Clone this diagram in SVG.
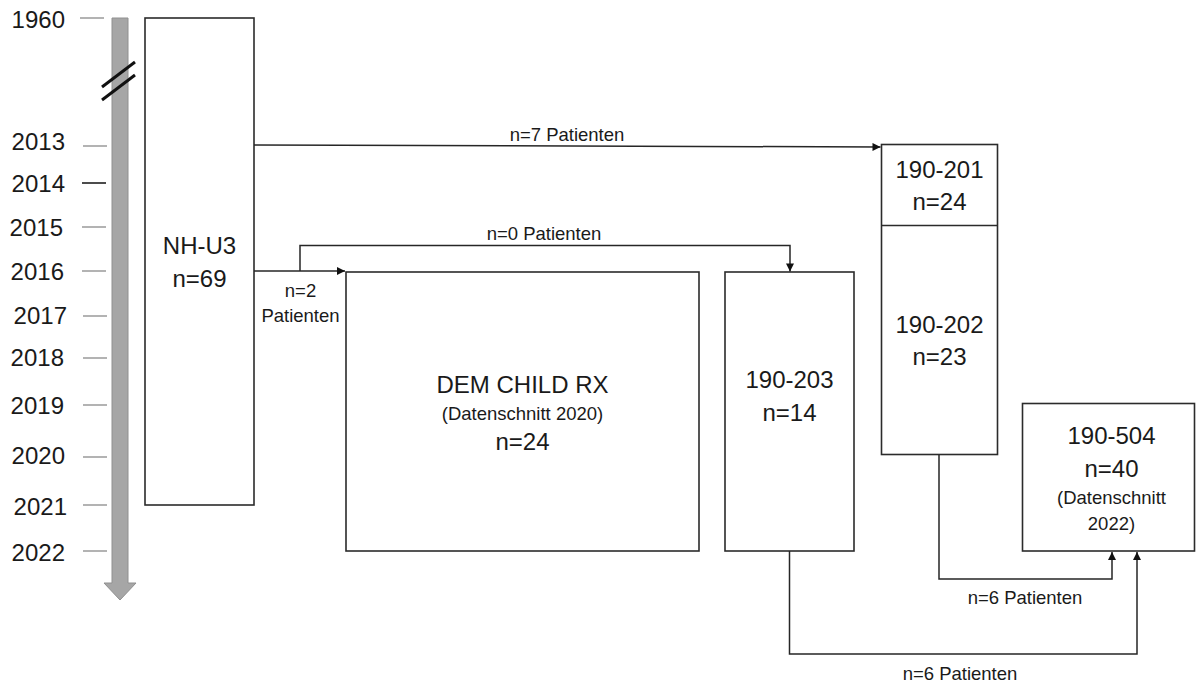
<svg xmlns="http://www.w3.org/2000/svg" width="1197" height="686" viewBox="0 0 1197 686">
<style>
  text { font-family: "Liberation Sans", Arial, sans-serif; fill: #1a1a1a; }
  .big { font-size: 24px; text-anchor: middle; }
  .sm { font-size: 18.5px; text-anchor: middle; }
  .yr { font-size: 24px; text-anchor: end; }
  .box { fill: #ffffff; stroke: #2b2b2b; stroke-width: 1.6; }
  .tick { stroke: #8a8a8a; stroke-width: 1.3; }
  .conn { fill: none; stroke: #262626; stroke-width: 1.5; }
</style>
<defs>
  <marker id="ah" viewBox="0 0 10 10" refX="10" refY="5" markerWidth="10" markerHeight="8" markerUnits="userSpaceOnUse" orient="auto">
    <path d="M0,0 L10,5 L0,10 Z" fill="#111"/>
  </marker>
</defs>
<rect width="1197" height="686" fill="#ffffff"/>

<g id="timeline">
  <polygon points="112,18 128,18 128,583 136,583 120,600 104,583 112,583" fill="#a6a6a6" stroke="#909090" stroke-width="1"/>
  <line x1="102" y1="87" x2="135" y2="62" stroke="#111" stroke-width="3"/>
  <line x1="102" y1="100" x2="135" y2="75" stroke="#111" stroke-width="3"/>
  <line class="tick" x1="80" y1="18" x2="104" y2="18"/>
  <line class="tick" x1="83" y1="146" x2="107" y2="146"/>
  <line x1="82" y1="183" x2="106" y2="183" stroke="#111" stroke-width="1.5"/>
  <line class="tick" x1="82" y1="227" x2="106" y2="227"/>
  <line class="tick" x1="82" y1="271" x2="106" y2="271"/>
  <line class="tick" x1="83" y1="316" x2="107" y2="316"/>
  <line class="tick" x1="83" y1="358" x2="107" y2="358"/>
  <line class="tick" x1="83" y1="405" x2="107" y2="405"/>
  <line class="tick" x1="83" y1="457" x2="107" y2="457"/>
  <line class="tick" x1="83" y1="505" x2="107" y2="505"/>
  <line class="tick" x1="83" y1="551" x2="107" y2="551"/>
  <text class="yr" x="65" y="28">1960</text>
  <text class="yr" x="65" y="150">2013</text>
  <text class="yr" x="65" y="192">2014</text>
  <text class="yr" x="63" y="236">2015</text>
  <text class="yr" x="64" y="280">2016</text>
  <text class="yr" x="67" y="324">2017</text>
  <text class="yr" x="64" y="366">2018</text>
  <text class="yr" x="64" y="414">2019</text>
  <text class="yr" x="65" y="464">2020</text>
  <text class="yr" x="67" y="515">2021</text>
  <text class="yr" x="65" y="561">2022</text>
</g>

<g id="node-nhu3">
  <rect class="box" x="145" y="18" width="109" height="487"/>
  <text class="big" x="199.5" y="254">NH-U3</text>
  <text class="big" x="199.5" y="287">n=69</text>
</g>

<g id="node-demchild">
  <rect class="box" x="346" y="272" width="353" height="279"/>
  <text class="big" x="522.5" y="393">DEM CHILD RX</text>
  <text class="sm" x="522.5" y="420">(Datenschnitt 2020)</text>
  <text class="big" x="522.5" y="450">n=24</text>
</g>

<g id="node-190-203">
  <rect class="box" x="725" y="272" width="129" height="279"/>
  <text class="big" x="789.5" y="388">190-203</text>
  <text class="big" x="789.5" y="421">n=14</text>
</g>

<g id="node-190-201-202">
  <rect class="box" x="881.5" y="144.5" width="116" height="310"/>
  <line x1="881.5" y1="225.5" x2="997.5" y2="225.5" stroke="#2b2b2b" stroke-width="1.6"/>
  <text class="big" x="939.5" y="178">190-201</text>
  <text class="big" x="939.5" y="210">n=24</text>
  <text class="big" x="939.5" y="333">190-202</text>
  <text class="big" x="939.5" y="365">n=23</text>
</g>

<g id="node-190-504">
  <rect class="box" x="1022.5" y="403.5" width="172" height="147.5"/>
  <text class="big" x="1111.5" y="444">190-504</text>
  <text class="big" x="1111.5" y="477">n=40</text>
  <text class="sm" x="1111.5" y="504">(Datenschnitt</text>
  <text class="sm" x="1111.5" y="530">2022)</text>
</g>

<g id="connectors">
  <path class="conn" d="M254,145 L880.5,147" marker-end="url(#ah)"/>
  <path class="conn" d="M254,271 L345,271" marker-end="url(#ah)"/>
  <path class="conn" d="M300,271 L300,245.5 L790,245.5 L790,271.5" marker-end="url(#ah)"/>
  <path class="conn" d="M939,455 L939,579 L1112,579 L1112,552" marker-end="url(#ah)"/>
  <path class="conn" d="M789.5,551 L789.5,654 L1137,654 L1137,552" marker-end="url(#ah)"/>
  <text class="sm" x="567" y="141">n=7 Patienten</text>
  <text class="sm" x="544" y="240">n=0 Patienten</text>
  <text class="sm" x="300.5" y="297">n=2</text>
  <text class="sm" x="300.5" y="322">Patienten</text>
  <text class="sm" x="1025" y="604">n=6 Patienten</text>
  <text class="sm" x="960" y="680">n=6 Patienten</text>
</g>
</svg>
